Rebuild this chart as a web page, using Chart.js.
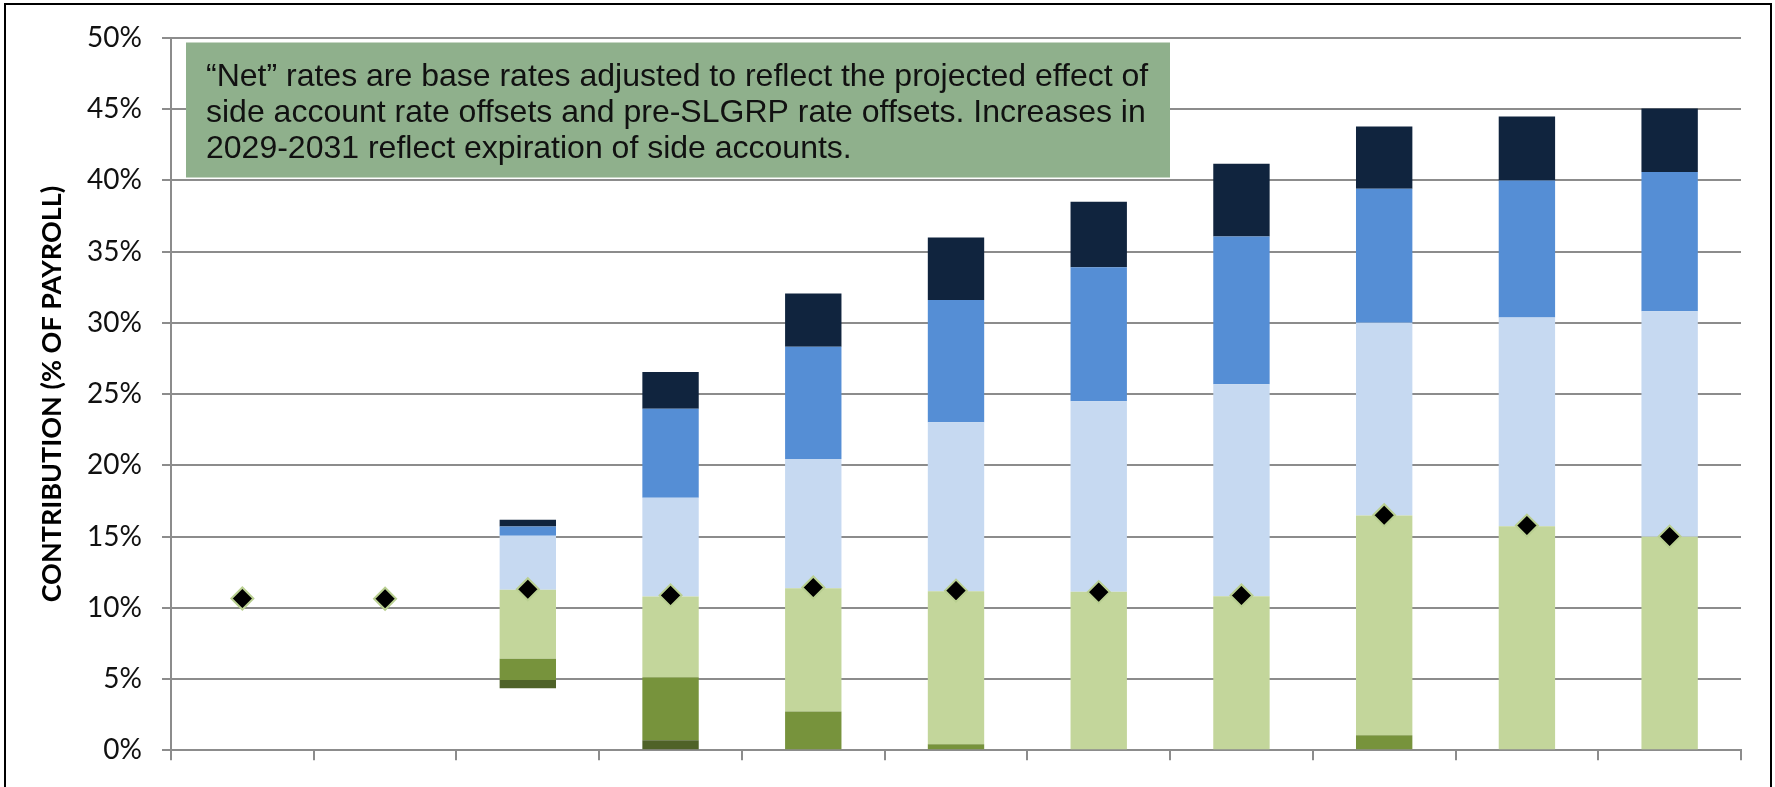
<!DOCTYPE html>
<html>
<head>
<meta charset="utf-8">
<script src="https://cdn.jsdelivr.net/npm/chart.js@4.4.1/dist/chart.umd.min.js"></script>
<style>
  html, body { margin: 0; padding: 0; background: #ffffff; }
  #wrap { width: 1775px; height: 787px; position: relative; }
</style>
</head>
<body>
<div id="wrap"><canvas id="chart"></canvas></div>
<script>
// categories (no x labels are visible in the picture, kept hidden)
const categories = ['2021', '2022', '2023', '2024', '2025', '2026', '2027', '2028', '2029', '2030', '2031'];

// stacked segments, bottom to top (% of payroll)
const floatBase   = [0, 0, 4.35, 0, 0, 0, 0, 0, 0, 0, 0];
const darkOlive   = [0, 0, 0.58, 0.70, 0, 0, 0, 0, 0, 0, 0];
const olive       = [0, 0, 1.49, 4.42, 2.72, 0.42, 0, 0, 1.05, 0, 0];
const lightGreen  = [0, 0, 4.84, 5.67, 8.65, 10.74, 11.12, 10.81, 15.43, 15.72, 14.98];
const lightBlue   = [0, 0, 3.79, 6.93, 9.07, 11.87, 13.37, 14.89, 13.53, 14.66, 15.84];
const midBlue     = [0, 0, 0.65, 6.26, 7.89, 8.57, 9.42, 10.37, 9.40, 9.61, 9.77];
const navy        = [0, 0, 0.47, 2.58, 3.74, 4.40, 4.59, 5.10, 4.38, 4.50, 4.46];

// "net" rate markers
const netRate     = [10.65, 10.63, 11.30, 10.87, 11.42, 11.20, 11.10, 10.86, 16.50, 15.77, 15.00];

// y ticks
const yTicks = [0, 5, 10, 15, 20, 25, 30, 35, 40, 45, 50];

const noteLines = [
    '\u201CNet\u201D rates are base rates adjusted to reflect the projected effect of',
    'side account rate offsets and pre-SLGRP rate offsets. Increases in',
    '2029-2031 reflect expiration of side accounts.',
];

const GRID = '#8c8c8c';

function barSet(label, data, color) {
    return {
        type: 'bar',
        label,
        data,
        backgroundColor: color,
        borderWidth: 0,
        stack: 'rates',
        order: 1,
        categoryPercentage: 1,
        barPercentage: 0.395,
    };
}

// note box + outer frame
const overlay = {
    id: 'overlay',
    afterDraw(chart) {
        const { ctx, chartArea: a } = chart;
        ctx.save();
        const bx = a.left + 15, by = a.top + 4.5, bw = 984, bh = 135;
        ctx.fillStyle = '#8fb08c';
        ctx.fillRect(bx, by, bw, bh);
        ctx.fillStyle = '#111111';
        ctx.font = '32px "Liberation Sans", Arial, sans-serif';
        ctx.textBaseline = 'middle';
        ctx.textAlign = 'left';
        noteLines.forEach((line, i) => {
            ctx.fillText(line, bx + 20, by + 35 + i * 36);
        });
        ctx.strokeStyle = '#000000';
        ctx.lineWidth = 2;
        ctx.strokeRect(5, 4, chart.width - 9, chart.height + 20);
        ctx.restore();
    },
};

new Chart(document.getElementById('chart'), {
    data: {
        labels: categories,
        datasets: [
            {
                type: 'line',
                label: 'Net',
                data: netRate,
                showLine: false,
                pointStyle: 'rectRot',
                pointRadius: 11,
                pointHoverRadius: 11,
                pointBackgroundColor: '#000000',
                pointBorderColor: '#b9cf91',
                pointBorderWidth: 2,
                stack: 'net',
                order: 0,
            },
            barSet('base', floatBase, 'rgba(0,0,0,0)'),
            barSet('dark olive', darkOlive, '#4f6228'),
            barSet('olive', olive, '#77933c'),
            barSet('light green', lightGreen, '#c3d69b'),
            barSet('light blue', lightBlue, '#c6d9f1'),
            barSet('mid blue', midBlue, '#558ed5'),
            barSet('navy', navy, '#10243e'),
        ],
    },
    options: {
        responsive: true,
        maintainAspectRatio: false,
        animation: false,
        layout: { padding: { top: 38, right: 34, bottom: 0, left: 0 } },
        plugins: {
            legend: { display: false },
            tooltip: { enabled: false },
        },
        scales: {
            x: {
                stacked: true,
                offset: true,
                grid: {
                    offset: true,
                    drawOnChartArea: false,
                    drawTicks: true,
                    tickLength: 10,
                    color: GRID,
                    lineWidth: 2,
                },
                border: { display: true, color: GRID, width: 2 },
                ticks: { display: false },
                afterFit(scale) { scale.height = 32; },
            },
            y: {
                stacked: true,
                min: 0,
                max: 50,
                afterBuildTicks(scale) { scale.ticks = yTicks.map(v => ({ value: v })); },
                grid: {
                    color: GRID,
                    lineWidth: 2,
                    tickLength: 9,
                },
                border: { display: true, color: GRID, width: 2 },
                ticks: {
                    padding: 20,
                    color: '#111111',
                    font: { family: 'Lato, "Liberation Sans", sans-serif', size: 28 },
                    callback: v => v + '%',
                },
                title: {
                    display: true,
                    text: 'CONTRIBUTION (% OF PAYROLL)',
                    color: '#000000',
                    font: { family: 'Lato, "Liberation Sans", sans-serif', size: 27, weight: 'bold' },
                    padding: { top: 36, bottom: 0 },
                },
                afterFit(scale) { scale.width = 171; },
            },
        },
    },
    plugins: [overlay],
});
</script>
</body>
</html>
